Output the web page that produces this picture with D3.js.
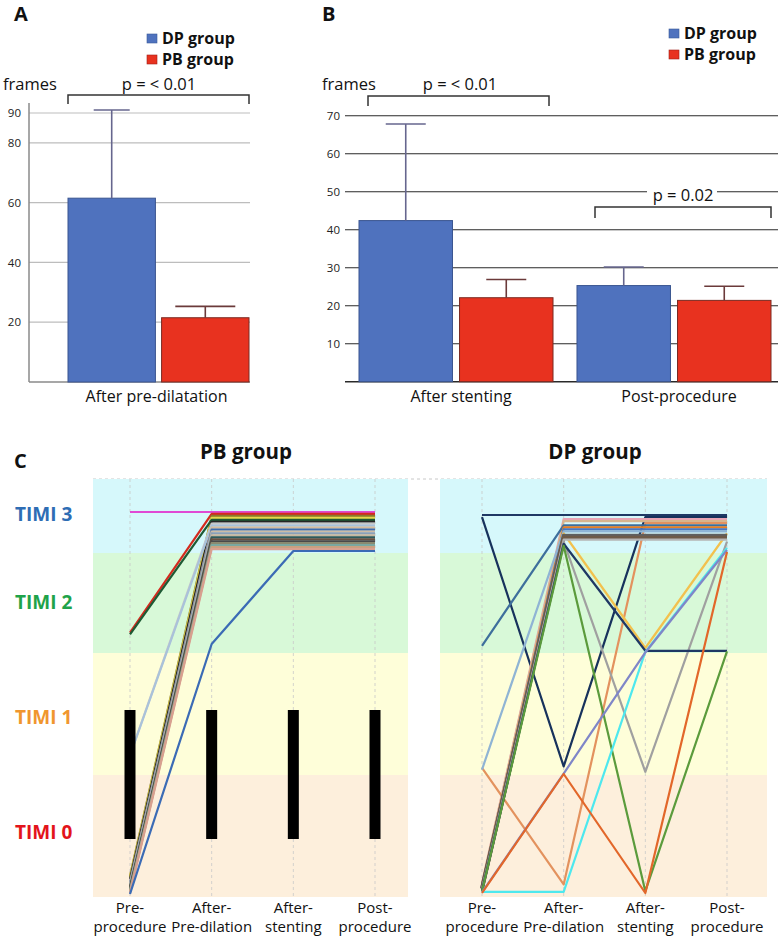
<!DOCTYPE html>
<html>
<head>
<meta charset="utf-8">
<script src="https://cdn.jsdelivr.net/npm/d3@7"></script>
<style>
  body { margin: 0; background: #fff; }
  svg { display: block; font-family: "Open Sans", sans-serif; }
</style>
</head>
<body>
<svg id="fig" width="778" height="939"></svg>
<script>
// ---------- data ----------
const seriesNames = ["DP group", "PB group"];
const seriesColors = ["#4f72be", "#e8321f"];

// panel A
const catsA = ["After pre-dilatation"];
const dpMeanA = [61.5];
const dpSdA = [29.5];
const pbMeanA = [21.5];
const pbSdA = [3.8];
const ticksA = [20, 40, 60, 80, 90];

// panel B
const catsB = ["After stenting", "Post-procedure"];
const dpMeanB = [42.4, 25.3];
const dpSdB = [25.4, 4.9];
const pbMeanB = [22.1, 21.4];
const pbSdB = [4.8, 3.7];
const ticksB = [10, 20, 30, 40, 50, 60, 70];

// panel C
const timepoints = ["Pre-|procedure", "After-|Pre-dilation", "After-|stenting", "Post-|procedure"];
const timiLabels = ["TIMI 0", "TIMI 1", "TIMI 2", "TIMI 3"];
const timiColors = ["#e3141b", "#f0962e", "#1fa34a", "#2e6db4"];

// TIMI grade per patient at each timepoint
const pbPaths = [
  [3, 3, 3, 3], [2, 3, 3, 3], [0, 3, 3, 3], [0, 3, 3, 3], [2, 3, 3, 3],
  [0, 3, 3, 3], [1, 3, 3, 3], [1, 3, 3, 3], [0, 3, 3, 3], [0, 3, 3, 3],
  [0, 3, 3, 3], [0, 3, 3, 3], [0, 3, 3, 3], [0, 3, 3, 3], [0, 3, 3, 3],
  [0, 3, 3, 3], [0, 3, 3, 3], [0, 3, 3, 3], [0, 3, 3, 3], [0, 3, 3, 3],
  [0, 2, 3, 3]
];
const pbColors = [
  "#e04ad4", "#d42a1e", "#8a7a2a", "#e6d84a", "#1e5a34",
  "#262626", "#c8c8c8", "#a9c2da", "#d5bb9c", "#3d6db0",
  "#cdbca6", "#8aa0b8", "#c8b8a0", "#2f5a5a", "#6a5040",
  "#4a4a4a", "#8a8a70", "#7aa8a0", "#c9a080", "#d8a090",
  "#3b6bb5"
];

const dpPaths = [
  [3, 3, 3, 3], [3, 1, 3, 3], [0, 3, 3, 3], [0, 3, 3, 3], [1, 0, 3, 3],
  [2, 3, 3, 3], [0, 3, 3, 3], [0, 3, 3, 3], [1, 3, 3, 3], [0, 3, 2, 3],
  [0, 3, 3, 3], [0, 3, 3, 3], [0, 3, 3, 3], [0, 3, 1, 3], [0, 3, 2, 2],
  [0, 3, 0, 2], [0, 0, 2, 3], [0, 1, 2, 3], [0, 1, 0, 3]
];
const dpColors = [
  "#1f3864", "#17325c", "#e9a3b3", "#d7b58e", "#e3925e",
  "#3e6f9c", "#e67e22", "#4a78c0", "#8fb4d4", "#f2c14e",
  "#5f5f5f", "#6e5a48", "#b5b5b5", "#a0a0a0", "#1f3864",
  "#5b9b3c", "#4ee8ee", "#7f86c8", "#e2672a"
];

// ---------- layout ----------
const svg = d3.select("#fig");
const W = 778;

function label(g, x, y, txt, size, weight, anchor, fill) {
  return g.append("text")
    .attr("x", x).attr("y", y)
    .attr("font-size", size)
    .attr("font-weight", weight || "normal")
    .attr("text-anchor", anchor || "start")
    .attr("fill", fill || "#111")
    .text(txt);
}

function bracket(g, xa, xb, top, bottom) {
  g.append("path")
    .attr("d", `M${xa},${bottom}V${top}H${xb}V${bottom}`)
    .attr("fill", "none")
    .attr("stroke", "#333")
    .attr("stroke-width", 1.5);
}

function legend(g, x, y) {
  seriesNames.forEach((s, i) => {
    g.append("rect")
      .attr("x", x).attr("y", y + i * 21 - 5)
      .attr("width", 10).attr("height", 9)
      .attr("fill", seriesColors[i])
      .attr("stroke", i ? "#a02018" : "#3a5a9a").attr("stroke-width", 0.6);
    label(g, x + 15, y + i * 21 + 5, s, 16, "bold");
  });
}

function drawBars(g, cats, dp, dpSd, pb, pbSd, x0, x1, y, caps) {
  const rows = [];
  cats.forEach((c, ci) => {
    rows.push({ cat: c, s: seriesNames[0], v: dp[ci], sd: dpSd[ci], k: 0 });
    rows.push({ cat: c, s: seriesNames[1], v: pb[ci], sd: pbSd[ci], k: 1 });
  });
  g.selectAll("rect.bar")
    .data(rows)
    .join("rect")
    .attr("class", "bar")
    .attr("x", d => x0(d.cat) + x1(d.s))
    .attr("y", d => y(d.v))
    .attr("width", x1.bandwidth())
    .attr("height", d => y(0) - y(d.v))
    .attr("fill", d => seriesColors[d.k])
    .attr("stroke", d => d.k ? "#7a2a22" : "#3a5590")
    .attr("stroke-width", 1);
  const eg = g.selectAll("g.err").data(rows).join("g").attr("class", "err");
  eg.append("line")
    .attr("x1", d => x0(d.cat) + x1(d.s) + x1.bandwidth() / 2)
    .attr("x2", d => x0(d.cat) + x1(d.s) + x1.bandwidth() / 2)
    .attr("y1", d => y(d.v))
    .attr("y2", d => y(d.v + d.sd));
  eg.append("line")
    .attr("x1", d => x0(d.cat) + x1(d.s) + x1.bandwidth() / 2 - caps[d.k] / 2)
    .attr("x2", d => x0(d.cat) + x1(d.s) + x1.bandwidth() / 2 + caps[d.k] / 2)
    .attr("y1", d => y(d.v + d.sd))
    .attr("y2", d => y(d.v + d.sd));
  eg.selectAll("line")
    .attr("stroke", d => d.k ? "#6b3a3a" : "#66668e")
    .attr("stroke-width", 1.6);
}

// ---------- panel A ----------
const gA = svg.append("g");
label(gA, 14, 21, "A", 20, "bold");
legend(gA, 147, 39);

const yA = d3.scaleLinear().domain([0, 90]).range([382, 113]);
const xA0 = d3.scaleBand().domain(catsA).range([68, 249]);
const xA1 = d3.scaleBand().domain(seriesNames).range([0, xA0.bandwidth()]).paddingInner(0.066);

gA.selectAll("line.grid")
  .data(ticksA)
  .join("line")
  .attr("class", "grid")
  .attr("x1", 29).attr("x2", 250)
  .attr("y1", d => yA(d)).attr("y2", d => yA(d))
  .attr("stroke", "#bdbdbd").attr("stroke-width", 1.2);

gA.append("g")
  .attr("transform", "translate(29,0)")
  .call(d3.axisLeft(yA).tickValues(ticksA).tickSize(0).tickPadding(8))
  .call(a => a.select(".domain").remove())
  .call(a => a.selectAll("text").attr("font-size", 11.5).attr("fill", "#222").attr("font-family", "Open Sans"));
gA.append("line").attr("x1", 29).attr("x2", 29).attr("y1", 103).attr("y2", yA(0))
  .attr("stroke", "#8a8a8a").attr("stroke-width", 1.5);
gA.append("line").attr("x1", 29).attr("x2", 250).attr("y1", yA(0)).attr("y2", yA(0))
  .attr("stroke", "#8a8a8a").attr("stroke-width", 1.5);

drawBars(gA, catsA, dpMeanA, dpSdA, pbMeanA, pbSdA, xA0, xA1, yA, [36, 60]);

label(gA, 3, 90, "frames", 16.5);
label(gA, 159, 90, "p = < 0.01", 16.5, "normal", "middle");
bracket(gA, 68, 249, 95, 104);
catsA.forEach(c => label(gA, xA0(c) + xA0.bandwidth() / 2 - 2, 402, c, 16, "normal", "middle"));

// ---------- panel B ----------
const gB = svg.append("g");
label(gB, 322, 21, "B", 20, "bold");
legend(gB, 669, 34);

const yB = d3.scaleLinear().domain([0, 70]).range([381.7, 115.7]);
const xB0 = d3.scaleBand().domain(catsB).range([359, 771]).paddingInner(0.11);
const xB1 = d3.scaleBand().domain(seriesNames).range([0, xB0.bandwidth()]).paddingInner(0.07);

gB.selectAll("line.grid")
  .data(ticksB)
  .join("line")
  .attr("class", "grid")
  .attr("x1", 345).attr("x2", W)
  .attr("y1", d => yB(d)).attr("y2", d => yB(d))
  .attr("stroke", "#2a2a2a").attr("stroke-width", 1.1);

gB.append("g")
  .attr("transform", "translate(345,0)")
  .call(d3.axisLeft(yB).tickValues(ticksB).tickSize(0).tickPadding(5))
  .call(a => a.select(".domain").remove())
  .call(a => a.selectAll("text").attr("font-size", 11.5).attr("fill", "#222").attr("font-family", "Open Sans"));

gB.append("line").attr("x1", 345).attr("x2", W).attr("y1", yB(0)).attr("y2", yB(0))
  .attr("stroke", "#2a2a2a").attr("stroke-width", 1.6);

drawBars(gB, catsB, dpMeanB, dpSdB, pbMeanB, pbSdB, xB0, xB1, yB, [40, 40]);

label(gB, 322, 90, "frames", 16.5);
label(gB, 460, 90, "p = < 0.01", 16.5, "normal", "middle");
bracket(gB, 368, 549, 96, 106);
gB.append("rect").attr("x", 647).attr("y", 183).attr("width", 70).attr("height", 17).attr("fill", "#fff");
label(gB, 683, 201, "p = 0.02", 16.5, "normal", "middle");
bracket(gB, 595, 771, 207, 218);
catsB.forEach(c => label(gB, xB0(c) + xB0.bandwidth() / 2 + 5, 402, c, 16, "normal", "middle"));

// ---------- panel C ----------
const gC = svg.append("g");
label(gC, 14, 468, "C", 20, "bold");

const bandEdges = [479, 553, 653, 775, 897];
const bandFills = ["#d6f8fb", "#d8f9d8", "#fefed9", "#fdefdc"];

function timiPanel(bgX0, bgX1, xr, yLevels, spread, paths, colors, thick) {
  const g = gC.append("g");
  bandFills.forEach((f, i) => {
    g.append("rect")
      .attr("x", bgX0).attr("y", bandEdges[i])
      .attr("width", bgX1 - bgX0).attr("height", bandEdges[i + 1] - bandEdges[i])
      .attr("fill", f);
  });
  const x = d3.scalePoint().domain(timepoints).range(xr);
  const y = d3.scaleLinear().domain([0, 1, 2, 3]).range(yLevels);
  g.selectAll("line.vgrid")
    .data(timepoints)
    .join("line")
    .attr("class", "vgrid")
    .attr("x1", d => x(d)).attr("x2", d => x(d))
    .attr("y1", bandEdges[0]).attr("y2", bandEdges[4])
    .attr("stroke", "#c8c8c8").attr("stroke-dasharray", "3,3").attr("stroke-width", 0.8);

  const n = paths.length;
  const line = d3.line()
    .x((d, j) => x(timepoints[j]))
    .y(d => y(d.v) + spread[d.v] * d.i / (n - 1));
  g.selectAll("path.pt")
    .data(paths.map((p, i) => p.map(v => ({ v, i }))))
    .join("path")
    .attr("class", "pt")
    .attr("d", line)
    .attr("fill", "none")
    .attr("stroke", (d, i) => colors[i])
    .attr("stroke-width", (d, i) => thick.includes(i) ? 3.8 : 2.2)
    .attr("stroke-linejoin", "round");

  timepoints.forEach(t => {
    const parts = t.split("|");
    label(g, x(t), 913, parts[0], 15, "normal", "middle", "#111");
    label(g, x(t), 932, parts[1], 15, "normal", "middle", "#111");
  });
  return { g, x, y };
}

gC.append("line")
  .attr("x1", 93).attr("x2", 767).attr("y1", 479).attr("y2", 479)
  .attr("stroke", "#c8c8c8").attr("stroke-dasharray", "3,3");

const pb = timiPanel(93, 408, [130, 375], [874, 752, 632, 512], [20, 10, 12, 39], pbPaths, pbColors, []);
// black markers covering TIMI 0-1 region of PB group
pb.g.selectAll("rect.blk")
  .data(timepoints)
  .join("rect")
  .attr("class", "blk")
  .attr("x", d => pb.x(d) - 5.5)
  .attr("y", 710)
  .attr("width", 11)
  .attr("height", 129)
  .attr("fill", "#000");

timiPanel(440, 767, [482, 727], [882, 766, 643, 515], [11, 8, 10, 37], dpPaths, dpColors, [10, 11]);

label(gC, 246, 459, "PB group", 20.5, "bold", "middle");
label(gC, 595, 459, "DP group", 20.5, "bold", "middle");

[[3, 521], [2, 609], [1, 724], [0, 839]].forEach(([lv, yy]) => {
  label(gC, 15, yy, timiLabels[lv], 19, "bold", "start", timiColors[lv]);
});
</script>
</body>
</html>
